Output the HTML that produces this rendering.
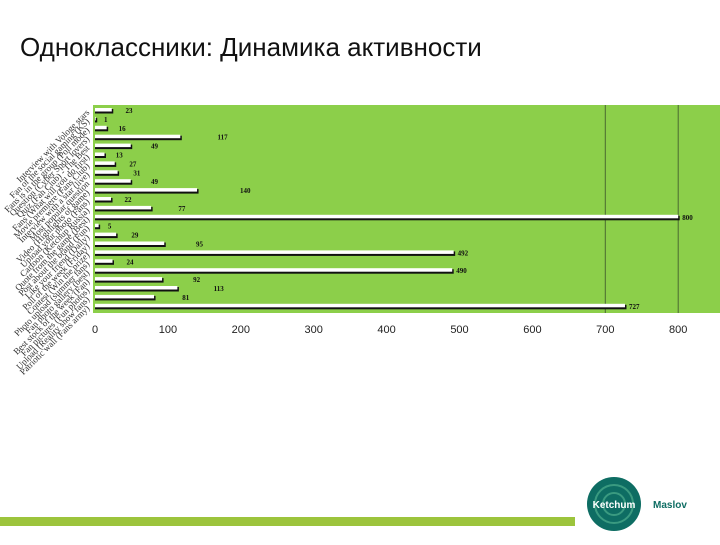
<!DOCTYPE html>
<html><head><meta charset="utf-8"><style>
body{margin:0;width:720px;height:540px;background:#fff;overflow:hidden;font-family:"Liberation Sans",sans-serif}
</style></head><body>
<svg id="c" width="720" height="540" xmlns="http://www.w3.org/2000/svg">
<text x="20" y="56" font-size="26" font-family="Liberation Sans, sans-serif" fill="#111">Одноклассники: Динамика активности</text>
<rect x="93" y="105" width="627" height="208" fill="#8ccf4a"/>
<g id="grid"></g><g id="bars"></g><g id="xt"></g><g id="yl"></g>
<rect x="0" y="517" width="575" height="9" fill="#9cc43c"/>
<g>
<circle cx="614" cy="504" r="27" fill="#0e6d63"/>
<circle cx="614" cy="504" r="19" fill="none" stroke="#3a9a80" stroke-width="2"/>
<circle cx="614" cy="504" r="11" fill="none" stroke="#3a9a80" stroke-width="2"/>
<text x="614" y="508" font-size="10" fill="#fff" text-anchor="middle" font-weight="bold">Ketchum</text>
</g>
<text x="653" y="508" font-size="10" fill="#0e6d63" font-weight="bold">Maslov</text>
</svg>
<script>
const categories=["Item 1","Item 2","Item 3","Item 4","Item 5","Item 6","Item 7","Item 8","Item 9","Item 10","Item 11","Item 12","Item 13","Item 14","Item 15","Item 16","Item 17","Item 18","Item 19","Item 20","Item 21","Item 22","Item 23"];
const labels=["Interview with Vologe stars","Fan of the social gaming (KS)","Fans is in the group (Poll mode)","Question (Cyber Sport lovers)","Quiz (Fan Club) - The Best","Fans (What will you do first)","Movie premiere (Fans Club)","Interview with a star (live)","Most popular question","Video (Highlights of game)","Upload your photo (Fans)","Cartoon (Ketchup Russia)","Quote from the game (Best)","Post about the brand (Fun)","Like your friend (Daily)","Poll of the week (Friday)","Contest (Win the prize)","Photo upload (summer fans)","Fan photo gallery (best)","Best stock of the week (Fan)","Fan pictures (Fun photos)","Upload (Reality show fans)","Patriotic wall (Fans army)"];
const values=[23,1,16,117,49,13,27,31,49,140,22,77,800,5,29,95,492,24,490,92,113,81,727];
const xTicks=[0,100,200,300,400,500,600,700,800];
const NS="http://www.w3.org/2000/svg";
const x0=95,pxPer=0.729;
const X=v=>x0+v*pxPer;
const Y=i=>111+i*8.9;
function el(t,a,p){const e=document.createElementNS(NS,t);for(const k in a)e.setAttribute(k,a[k]);document.getElementById(p).appendChild(e);return e;}
[700,800].forEach(v=>{const l=el("line",{x1:X(v),x2:X(v),y1:105,y2:313,stroke:"#4a6a30","stroke-width":1},"grid");

});
values.forEach((v,i)=>{const y=Y(i);
const s=el("rect",{x:x0,y:y-2,width:v*pxPer+1.5,height:4.5,fill:"#111"},"bars");


const b=el("rect",{x:x0,y:y-3,width:v*pxPer,height:3.5,fill:"#fff"},"bars");


const t=el("text",{x:X(v)+(v>400?4:v*0.25+8),y:y+2,"font-size":7,"font-weight":"bold","font-family":"Liberation Serif, serif",fill:"#111"},"bars");
t.textContent=v;


const lb=el("text",{x:90,y:y+2,"font-size":9,"font-family":"Liberation Serif, serif",fill:"#333","text-anchor":"end",transform:`rotate(-45 90 ${y+2})`},"yl");
lb.textContent=labels[i];

});
xTicks.forEach(v=>{const t=el("text",{x:X(v),y:333,"font-size":11,"text-anchor":"middle",fill:"#222"},"xt");
t.textContent=v;

});
</script>
</body></html>
